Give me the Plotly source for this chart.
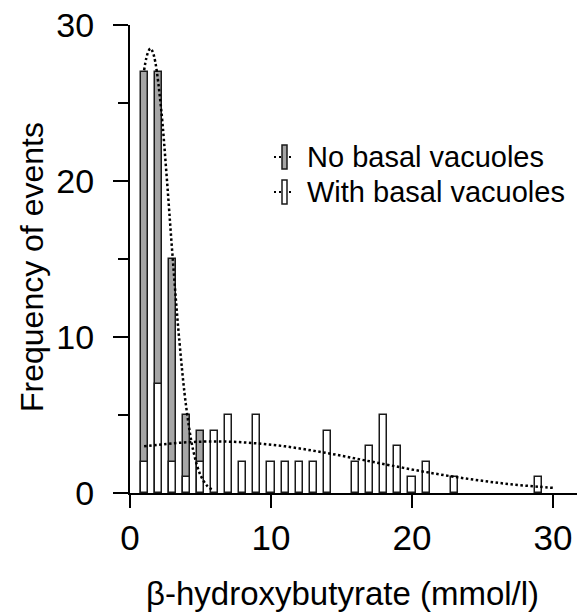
import plotly.graph_objects as go

# ---- data ----
bin_centers = list(range(1, 31))
no_vacuoles = [27, 27, 15, 5, 4] + [0] * 25
with_vacuoles = [2, 7, 2, 1, 2, 4, 5, 2, 5, 2, 2, 2, 2, 4, 0, 2, 3, 5, 3, 1,
                 2, 0, 1, 0, 0, 0, 0, 0, 1, 0]

fit_no_x = [1.0, 1.15, 1.3, 1.45, 1.6, 1.8, 2.2, 2.6, 3.0, 3.5, 4.0, 4.5, 5.0, 5.5, 5.9]
fit_no_y = [27.1, 27.85, 28.3, 28.5, 28.3, 27.6, 24.7, 20.3, 15.4, 9.76, 5.42, 2.66, 1.15, 0.43, 0.18]

fit_with_x = [1, 3, 5, 7, 9, 11, 13, 15, 17, 19, 21, 23, 25, 27, 29, 30]
fit_with_y = [2.99, 3.18, 3.29, 3.29, 3.18, 2.99, 2.71, 2.39, 2.03, 1.68, 1.34, 1.04, 0.78, 0.56, 0.40, 0.33]

x_ticks = [0, 10, 20, 30]
y_ticks = [0, 10, 20, 30]
labels = ["No basal vacuoles", "With basal vacuoles"]

FONT = "Liberation Sans, Arial, sans-serif"
GREY = "#a6a6a6"
EDGE = "#1a1a1a"

W, H = 578, 614
L, R, T, B = 130, 1, 25, 121
pw, ph = W - L - R, H - T - B


def px(x):
    return (x - L) / pw


def py(y):
    return (H - B - y) / ph


def nonzero(xs, ys):
    pairs = [(x, y) for x, y in zip(xs, ys) if y > 0]
    return [p[0] for p in pairs], [p[1] for p in pairs]


fig = go.Figure()
bx, by = nonzero(bin_centers, no_vacuoles)
fig.add_trace(go.Bar(x=bx, y=by, width=0.5, name=labels[0],
                     marker=dict(color=GREY, line=dict(color=EDGE, width=1.5))))
bx, by = nonzero(bin_centers, with_vacuoles)
fig.add_trace(go.Bar(x=bx, y=by, width=0.5, name=labels[1],
                     marker=dict(color="white", line=dict(color=EDGE, width=1.5))))
fig.add_trace(go.Scatter(x=fit_no_x, y=fit_no_y, mode="lines", line_shape="spline",
                         line=dict(color="black", width=2.5, dash="2.5px,2.5px"),
                         showlegend=False))
fig.add_trace(go.Scatter(x=fit_with_x, y=fit_with_y, mode="lines", line_shape="spline",
                         line=dict(color="black", width=2.5, dash="2.5px,2.5px"),
                         showlegend=False))

shapes = []
annotations = []
for i, (fill, yc) in enumerate([(GREY, 157), ("white", 192)]):
    shapes.append(dict(type="line", xref="paper", yref="paper",
                       x0=px(274), x1=px(294), y0=py(yc), y1=py(yc),
                       line=dict(color="black", width=2, dash="2px,3px")))
    shapes.append(dict(type="rect", xref="paper", yref="paper",
                       x0=px(282), x1=px(287), y0=py(yc - 12), y1=py(yc + 12),
                       fillcolor=fill, line=dict(color=EDGE, width=1.5)))
    annotations.append(dict(text=labels[i], xref="paper", yref="paper",
                            x=px(305), y=py(yc), xanchor="left", yanchor="middle",
                            showarrow=False, font=dict(family=FONT, size=29, color="black")))

annotations.append(dict(text="\u03b2-hydroxybutyrate (mmol/l)", xref="paper", yref="paper",
                        x=px(342), y=py(593), xanchor="center", yanchor="middle",
                        showarrow=False, font=dict(family=FONT, size=33, color="black")))
annotations.append(dict(text="Frequency of events", xref="paper", yref="paper",
                        x=px(32), y=py(267), xanchor="center", yanchor="middle", textangle=-90,
                        showarrow=False, font=dict(family=FONT, size=32, color="black")))

fig.update_layout(
    width=W, height=H, margin=dict(l=L, r=R, t=T, b=B, pad=0),
    barmode="overlay", bargap=0, showlegend=False,
    plot_bgcolor="white", paper_bgcolor="white",
    shapes=shapes, annotations=annotations,
    font=dict(family=FONT, color="black"),
)
fig.update_xaxes(range=[0, 31.7], tickvals=x_ticks, ticktext=[str(v) for v in x_ticks],
                 showline=True, linewidth=2, linecolor="black", showgrid=False, zeroline=False,
                 ticks="outside", ticklen=13, tickwidth=2, tickcolor="black",
                 tickfont=dict(family=FONT, size=35, color="black"), ticklabelstandoff=0)
fig.update_yaxes(range=[0, 30], tickvals=y_ticks, ticktext=[str(v) for v in y_ticks],
                 showline=True, linewidth=2, linecolor="black", showgrid=False, zeroline=False,
                 ticks="outside", ticklen=15, tickwidth=2, tickcolor="black",
                 minor=dict(ticks="outside", ticklen=10, tickwidth=2, tickcolor="black",
                            tickvals=[5, 15, 25]),
                 tickfont=dict(family=FONT, size=34, color="black"), ticklabelstandoff=12)

fig.write_html("out.html")
